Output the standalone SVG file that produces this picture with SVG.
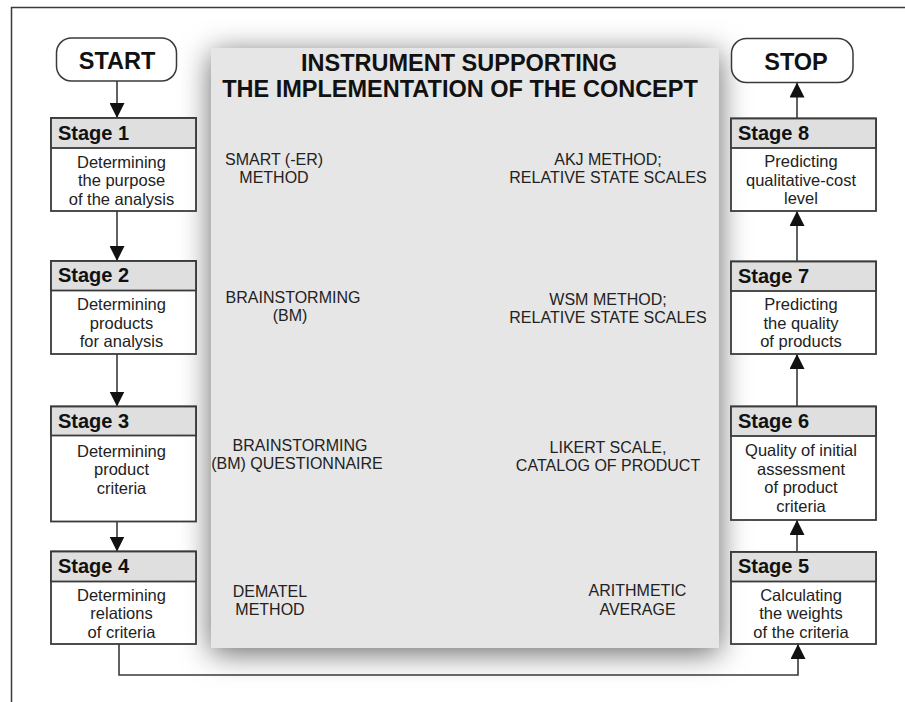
<svg xmlns="http://www.w3.org/2000/svg" width="905" height="702" viewBox="0 0 905 702">
<style>
  text { font-family: "Liberation Sans", Arial, sans-serif; }
  .frame { fill: none; stroke: #3a3a3a; stroke-width: 1.5; }
  .panel { fill: #e6e6e6; }
  .title { font-size: 23.5px; font-weight: bold; fill: #111; text-anchor: middle; }
  .method { font-size: 16px; fill: #222; text-anchor: middle; }
  .pill { fill: #fff; stroke: #3a3a3a; stroke-width: 1.5; }
  .pilltext { font-size: 23.5px; font-weight: bold; fill: #111; text-anchor: middle; }
  .box { fill: #fff; fill-opacity: 0.8; stroke: #3a3a3a; stroke-width: 1.8; }
  .head { fill: #dcdcdc; fill-opacity: 0.9; stroke: #3a3a3a; stroke-width: 1.8; }
  .stage { font-size: 20px; font-weight: bold; fill: #111; }
  .body { font-size: 16.5px; fill: #222; text-anchor: middle; }
  .conn { fill: none; stroke: #3a3a3a; stroke-width: 1.6; }
</style>
<defs>
  <filter id="shadow" x="-30%" y="-30%" width="160%" height="160%">
    <feDropShadow dx="0" dy="5" stdDeviation="15" flood-color="#000" flood-opacity="0.6"/>
  </filter>
  <marker id="arrow" markerUnits="userSpaceOnUse" markerWidth="15" markerHeight="15" viewBox="0 0 15 15" refX="15" refY="7.5" orient="auto">
    <path d="M0,0 L15,7.5 L0,15 z" fill="#111"/>
  </marker>
</defs>

<rect width="905" height="702" fill="#fff"/>

<g id="panel">
  <rect class="panel" x="211" y="48" width="508" height="600" filter="url(#shadow)"/>
  <text class="title" x="459" y="71">INSTRUMENT SUPPORTING</text>
  <text class="title" x="460" y="96.5">THE IMPLEMENTATION OF THE CONCEPT</text>
</g>

<path class="frame" d="M905,7.5 H11.5 V702"/>

<g id="methods">
  <text class="method" x="274" y="165">SMART (-ER)</text>
  <text class="method" x="274" y="183">METHOD</text>
  <text class="method" x="608" y="165">AKJ METHOD;</text>
  <text class="method" x="608" y="183">RELATIVE STATE SCALES</text>

  <text class="method" x="293" y="303">BRAINSTORMING</text>
  <text class="method" x="290" y="321">(BM)</text>
  <text class="method" x="608" y="305">WSM METHOD;</text>
  <text class="method" x="608" y="323">RELATIVE STATE SCALES</text>

  <text class="method" x="300" y="451">BRAINSTORMING</text>
  <text class="method" x="297" y="469">(BM) QUESTIONNAIRE</text>
  <text class="method" x="608" y="453">LIKERT SCALE,</text>
  <text class="method" x="608" y="471">CATALOG OF PRODUCT</text>

  <text class="method" x="270" y="597">DEMATEL</text>
  <text class="method" x="270" y="615">METHOD</text>
  <text class="method" x="637.5" y="596">ARITHMETIC</text>
  <text class="method" x="637.5" y="615">AVERAGE</text>
</g>

<g id="connectors">
  <line class="conn" x1="117" y1="81" x2="117" y2="118" marker-end="url(#arrow)"/>
  <line class="conn" x1="117" y1="211" x2="117" y2="261" marker-end="url(#arrow)"/>
  <line class="conn" x1="117" y1="354" x2="117" y2="406.5" marker-end="url(#arrow)"/>
  <line class="conn" x1="117" y1="521.5" x2="117" y2="551.5" marker-end="url(#arrow)"/>
  <path class="conn" d="M119,644 V675 H798 V644" marker-end="url(#arrow)"/>
  <line class="conn" x1="797" y1="552" x2="797" y2="520" marker-end="url(#arrow)"/>
  <line class="conn" x1="797" y1="406.5" x2="797" y2="354" marker-end="url(#arrow)"/>
  <line class="conn" x1="797" y1="261.5" x2="797" y2="211" marker-end="url(#arrow)"/>
  <line class="conn" x1="797" y1="118.5" x2="797" y2="82.5" marker-end="url(#arrow)"/>
</g>

<g id="start">
  <rect class="pill" x="56.5" y="38" width="120" height="43" rx="15"/>
  <text class="pilltext" x="117" y="68.5">START</text>
</g>

<g id="stop">
  <rect class="pill" x="731.5" y="38.5" width="121.5" height="44" rx="15"/>
  <text class="pilltext" x="796" y="69.5">STOP</text>
</g>

<g id="stage1">
  <rect class="box" x="51" y="118" width="145" height="93"/>
  <rect class="head" x="51" y="118" width="145" height="30"/>
  <text class="stage" x="58" y="139.5">Stage 1</text>
  <text class="body" x="121.5" y="167.5">Determining</text>
  <text class="body" x="121.5" y="186">the purpose</text>
  <text class="body" x="121.5" y="204.5">of the analysis</text>
</g>

<g id="stage2">
  <rect class="box" x="51" y="261" width="145" height="93"/>
  <rect class="head" x="51" y="261" width="145" height="29.5"/>
  <text class="stage" x="58" y="282">Stage 2</text>
  <text class="body" x="121.5" y="310">Determining</text>
  <text class="body" x="121.5" y="328.5">products</text>
  <text class="body" x="121.5" y="347">for analysis</text>
</g>

<g id="stage3">
  <rect class="box" x="51" y="406.5" width="145" height="115"/>
  <rect class="head" x="51" y="406.5" width="145" height="29"/>
  <text class="stage" x="58" y="427.5">Stage 3</text>
  <text class="body" x="121.5" y="456.5">Determining</text>
  <text class="body" x="121.5" y="475">product</text>
  <text class="body" x="121.5" y="493.5">criteria</text>
</g>

<g id="stage4">
  <rect class="box" x="51" y="551.5" width="145" height="92.5"/>
  <rect class="head" x="51" y="551.5" width="145" height="30"/>
  <text class="stage" x="58" y="573">Stage 4</text>
  <text class="body" x="121.5" y="600.5">Determining</text>
  <text class="body" x="121.5" y="619">relations</text>
  <text class="body" x="121.5" y="637.5">of criteria</text>
</g>

<g id="stage5">
  <rect class="box" x="731" y="552" width="145" height="92"/>
  <rect class="head" x="731" y="552" width="145" height="29.5"/>
  <text class="stage" x="738" y="573">Stage 5</text>
  <text class="body" x="801" y="600.5">Calculating</text>
  <text class="body" x="801" y="619">the weights</text>
  <text class="body" x="801" y="637.5">of the criteria</text>
</g>

<g id="stage6">
  <rect class="box" x="731" y="406.5" width="145" height="113.5"/>
  <rect class="head" x="731" y="406.5" width="145" height="29.5"/>
  <text class="stage" x="738" y="427.5">Stage 6</text>
  <text class="body" x="801" y="456">Quality of initial</text>
  <text class="body" x="801" y="474.5">assessment</text>
  <text class="body" x="801" y="493">of product</text>
  <text class="body" x="801" y="511.5">criteria</text>
</g>

<g id="stage7">
  <rect class="box" x="731" y="261.5" width="145" height="92.5"/>
  <rect class="head" x="731" y="261.5" width="145" height="29.5"/>
  <text class="stage" x="738" y="282.5">Stage 7</text>
  <text class="body" x="801" y="310">Predicting</text>
  <text class="body" x="801" y="328.5">the quality</text>
  <text class="body" x="801" y="347">of products</text>
</g>

<g id="stage8">
  <rect class="box" x="731" y="118.5" width="145" height="92.5"/>
  <rect class="head" x="731" y="118.5" width="145" height="29.5"/>
  <text class="stage" x="738" y="139.5">Stage 8</text>
  <text class="body" x="801" y="167">Predicting</text>
  <text class="body" x="801" y="185.5">qualitative-cost</text>
  <text class="body" x="801" y="204">level</text>
</g>
</svg>
